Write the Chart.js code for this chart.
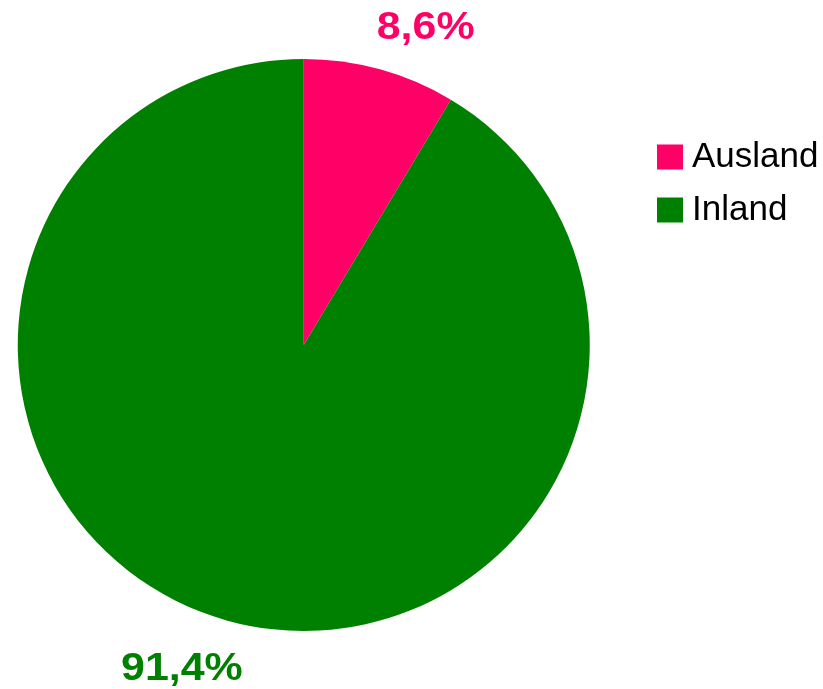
<!DOCTYPE html>
<html>
<head>
<meta charset="utf-8">
<script src="https://cdn.jsdelivr.net/npm/chart.js@4/dist/chart.umd.min.js"></script>
<style>
  html, body { margin: 0; padding: 0; background: #fff; overflow: hidden; }
  #wrap { width: 823px; height: 689px; overflow: hidden; position: relative; }
  #c { position: absolute; left: -40px; top: 0; }
</style>
</head>
<body>
<div id="wrap"><canvas id="c" width="863" height="689"></canvas></div>
<script>
const categories = ['Ausland', 'Inland'];
const shares = [8.6, 91.4];
const sliceColors = ['#FF0066', '#008000'];

const FONT = '"Liberation Sans", Arial, Helvetica, sans-serif';

const pctLabels = {
  id: 'pctLabels',
  afterDatasetsDraw(chart) {
    const ctx = chart.ctx;
    const meta = chart.getDatasetMeta(0);
    meta.data.forEach((arc, i) => {
      const p = arc.getProps(['x', 'y', 'startAngle', 'endAngle', 'outerRadius'], true);
      const mid = (p.startAngle + p.endAngle) / 2;
      const cx = Math.cos(mid), cy = Math.sin(mid);
      const d = p.outerRadius + 47;
      const x = p.x + cx * d + Math.sign(cx) * 33;
      const y = p.y + cy * d + 4;
      const txt = shares[i].toFixed(1).replace('.', ',') + '%';
      ctx.save();
      ctx.font = 'bold 38px ' + FONT;
      ctx.fillStyle = sliceColors[i];
      ctx.textAlign = 'center';
      ctx.textBaseline = 'middle';
      ctx.translate(x, y);
      ctx.scale(1.13, 1);
      ctx.fillText(txt, 0, 0);
      ctx.restore();
    });
  }
};

new Chart(document.getElementById('c'), {
  type: 'pie',
  data: {
    labels: categories,
    datasets: [{
      data: shares,
      backgroundColor: sliceColors,
      borderWidth: 0,
      radius: 286
    }]
  },
  options: {
    responsive: false,
    animation: false,
    layout: { padding: { left: 0, right: -5.5, top: 1, bottom: 0 } },
    plugins: {
      tooltip: { enabled: false },
      legend: {
        position: 'right',
        align: 'start',
        title: { display: true, text: '', font: { size: 10, lineHeight: 1 }, padding: { top: 110.5, bottom: 0 } },
        labels: {
          color: '#000',
          font: { family: FONT, size: 35 },
          boxWidth: 9,
          boxHeight: 8,
          padding: 18,
          generateLabels(chart) {
            const items = Chart.overrides.pie.plugins.legend.labels.generateLabels(chart);
            return items.map(it => Object.assign(it, { lineWidth: 17, strokeStyle: it.fillStyle, lineJoin: 'miter' }));
          }
        }
      }
    }
  },
  plugins: [pctLabels]
});
</script>
</body>
</html>
